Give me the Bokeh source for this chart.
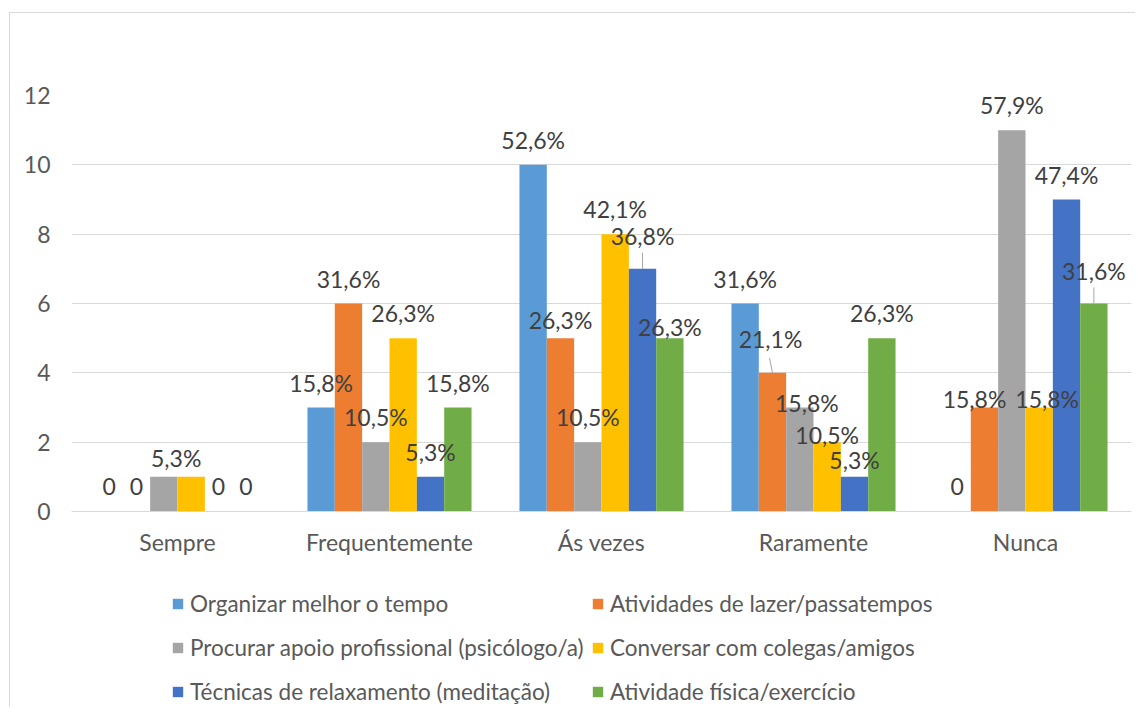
from bokeh.plotting import figure
from bokeh.models import ColumnDataSource, Legend, LegendItem, FixedTicker
from bokeh.embed import file_html
from bokeh.resources import INLINE
from bokeh.core.properties import value

# ---------------- data ----------------
categories = ["Sempre", "Frequentemente", "Ás vezes", "Raramente", "Nunca"]
series_names = [
    "Organizar melhor o tempo",
    "Atividades de lazer/passatempos",
    "Procurar apoio profissional (psicólogo/a)",
    "Conversar com colegas/amigos",
    "Técnicas de relaxamento (meditação)",
    "Atividade física/exercício",
]
organizar = [0, 3, 10, 6, 0]
atividades = [0, 6, 5, 4, 3]
procurar = [1, 2, 2, 3, 11]
conversar = [1, 5, 8, 2, 3]
tecnicas = [0, 1, 7, 1, 9]
fisica = [0, 3, 5, 5, 6]

organizar_lbl = ["0", "15,8%", "52,6%", "31,6%", "0"]
atividades_lbl = ["0", "31,6%", "26,3%", "21,1%", "15,8%"]
procurar_lbl = ["", "10,5%", "10,5%", "15,8%", "57,9%"]
conversar_lbl = ["5,3%", "26,3%", "42,1%", "10,5%", "15,8%"]
tecnicas_lbl = ["0", "5,3%", "36,8%", "5,3%", "47,4%"]
fisica_lbl = ["0", "15,8%", "26,3%", "26,3%", "31,6%"]

values = [organizar, atividades, procurar, conversar, tecnicas, fisica]
labels = [organizar_lbl, atividades_lbl, procurar_lbl, conversar_lbl, tecnicas_lbl, fisica_lbl]
colors = ["#5B9BD5", "#ED7D31", "#A5A5A5", "#FFC000", "#4472C4", "#70AD47"]

# manual data-label nudges (category, series) -> (dx px, dy px), like Excel's moved labels
nudges = {
    (0, 3): (-15, 6),
    (2, 1): (0, 7),
    (2, 4): (0, -8),
    (2, 5): (0, 14),
    (3, 1): (-2, -9),
    (3, 2): (7, 20),
    (3, 3): (0, 18),
    (3, 4): (0, 8),
    (4, 1): (-10, 16),
    (4, 3): (8, 16),
    (4, 5): (0, -8),
}
# leader lines (category, series) -> (dx px, length px)
leaders = {(2, 4): (0, 16), (3, 1): (-3, 15), (4, 5): (0, 16)}

# ---------------- figure ----------------
FRAME_W, FRAME_H = 1060, 612
PX_PER_UNIT = 416.0 / 12.0
Y_MIN = 12 - FRAME_H / PX_PER_UNIT   # room below the bars for category labels and legend

p = figure(
    frame_width=FRAME_W, frame_height=FRAME_H,
    x_range=(-0.5, 4.5), y_range=(Y_MIN, 12),
    output_backend="svg", toolbar_location=None,
    min_border_left=61, min_border_right=4, min_border_top=82, min_border_bottom=0,
)
p.margin = (12, 0, 0, 9)
p.styles = {"border-left": "1px solid #D9D9D9", "border-top": "1px solid #D9D9D9"}
p.outline_line_color = None
p.background_fill_color = "white"
p.border_fill_color = "white"

FONT = "Lato"
FS = "23px"
bar_w = 0.129
px_x = 5.0 / FRAME_W
px_y = 1.0 / PX_PER_UNIT

renderers = []
sources = []
xs_idx = list(range(len(categories)))
for s, (vals, lbls, col) in enumerate(zip(values, labels, colors)):
    off = (s - 2.5) * bar_w
    xs = [i + off for i in xs_idx]
    dx = [nudges.get((i, s), (0, 0))[0] for i in xs_idx]
    dy = [-25 + nudges.get((i, s), (0, 0))[1] for i in xs_idx]
    src = ColumnDataSource(dict(x=xs, top=vals, lbl=lbls, dx=dx, dy=dy))
    r = p.vbar(x="x", top="top", bottom=0, width=bar_w, source=src,
               fill_color=col, line_color=None)
    renderers.append(r)
    sources.append(src)

# leader lines
lx0, ly0, lx1, ly1 = [], [], [], []
for (i, s), (ldx, length) in leaders.items():
    x = i + (s - 2.5) * bar_w
    v = values[s][i]
    lx0.append(x); ly0.append(v)
    lx1.append(x + ldx * px_x); ly1.append(v + length * px_y)
p.segment(x0=lx0, y0=ly0, x1=lx1, y1=ly1, line_color="#A6A6A6", line_width=1)

# data labels, drawn after all bars
for src in sources:
    p.text(x="x", y="top", text="lbl", source=src, x_offset="dx", y_offset="dy",
           text_align="center", text_baseline="middle",
           text_font=value(FONT), text_font_size=FS, text_color="#404040")

# axes
p.xgrid.grid_line_color = None
p.ygrid.grid_line_color = "#D9D9D9"
p.ygrid.grid_line_width = 1
p.yaxis.ticker = FixedTicker(ticks=[0, 2, 4, 6, 8, 10, 12])
p.xaxis.ticker = FixedTicker(ticks=xs_idx)
p.xaxis.major_label_overrides = {i: c for i, c in enumerate(categories)}
p.xaxis.fixed_location = 0
for ax in (p.xaxis[0], p.yaxis[0]):
    ax.major_tick_line_color = None
    ax.minor_tick_line_color = None
    ax.major_label_text_font = FONT
    ax.major_label_text_font_size = FS
    ax.major_label_text_color = "#595959"
p.yaxis.axis_line_color = None
p.xaxis.axis_line_color = "#D9D9D9"
p.yaxis.major_label_standoff = 15
p.xaxis.major_label_standoff = 10

# legends: two columns of three rows
def make_legend(idx, x):
    items = [LegendItem(label=series_names[k], renderers=[renderers[k]]) for k in idx]
    return Legend(items=items, location=(x, 2), orientation="vertical",
                  padding=0, margin=0, spacing=16, label_height=28,
                  glyph_width=13, glyph_height=13, label_standoff=6,
                  border_line_color=None, background_fill_alpha=0,
                  label_text_font=FONT, label_text_font_size="22.5px",
                  label_text_color="#595959")

p.add_layout(make_legend([0, 2, 4], 100), "center")
p.add_layout(make_legend([1, 3, 5], 520), "center")

open("out.html", "w").write(file_html(p, INLINE))
